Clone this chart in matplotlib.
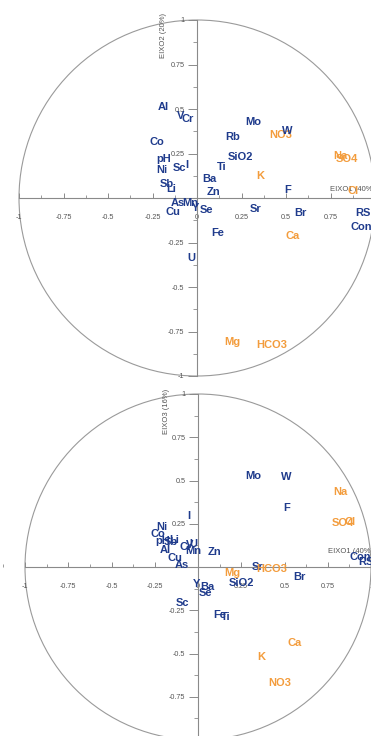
import matplotlib
matplotlib.use("Agg")
import matplotlib.pyplot as plt
from matplotlib.patches import Circle
from matplotlib.ticker import MultipleLocator, FuncFormatter

plt.rcParams['font.family'] = ['Liberation Sans', 'DejaVu Sans']

# ---------------- data ----------------
top_labels = ["Al", "V", "Cr", "Co", "pH", "Ni", "Sc", "I", "Sb", "Li", "As", "Mn", "Cu", "Y",
              "Se", "Ba", "Zn", "Ti", "SiO2", "Rb", "Mo", "NO3", "W", "Na", "SO4", "K", "F", "Cl",
              "Sr", "Br", "RS", "Cond", "Ca", "Fe", "U", "Mg", "HCO3"]
top_x = [-0.191, -0.090, -0.051, -0.225, -0.185, -0.197, -0.096, -0.056, -0.169, -0.146, -0.107,
         -0.039, -0.135, -0.006, 0.056, 0.067, 0.090, 0.140, 0.242, 0.202, 0.315, 0.472, 0.506,
         0.803, 0.843, 0.354, 0.511, 0.876, 0.331, 0.579, 0.933, 0.944, 0.539, 0.118, -0.034,
         0.197, 0.421]
top_y = [0.511, 0.461, 0.444, 0.315, 0.219, 0.157, 0.169, 0.185, 0.079, 0.051, -0.028, -0.028,
         -0.079, -0.056, -0.067, 0.107, 0.034, 0.174, 0.230, 0.343, 0.427, 0.354, 0.376, 0.236,
         0.219, 0.124, 0.045, 0.039, -0.062, -0.084, -0.084, -0.163, -0.213, -0.197, -0.337,
         -0.809, -0.826]
top_group = ["m", "m", "m", "m", "m", "m", "m", "m", "m", "m", "m", "m", "m", "m",
             "m", "m", "m", "m", "m", "m", "m", "i", "m", "i", "i", "i", "m", "i",
             "m", "m", "m", "m", "i", "m", "m", "i", "i"]

bot_labels = ["Mo", "W", "Na", "F", "SO4", "Cl", "I", "Ni", "Co", "pH", "Sb", "Li", "Al", "Cr",
              "V", "U", "Mn", "Zn", "Cu", "As", "Mg", "SiO2", "Sr", "HCO3", "Br", "Cond", "RS",
              "Y", "Ba", "Se", "Sc", "Fe", "Ti", "Ca", "K", "NO3"]
bot_x = [0.318, 0.509, 0.821, 0.514, 0.838, 0.879, -0.052, -0.208, -0.231, -0.202, -0.156, -0.139,
         -0.191, -0.069, -0.046, -0.029, -0.029, 0.098, -0.133, -0.092, 0.197, 0.254, 0.347,
         0.428, 0.584, 0.960, 0.970, -0.006, 0.052, 0.046, -0.087, 0.127, 0.162, 0.561, 0.364,
         0.474]
bot_y = [0.526, 0.520, 0.434, 0.341, 0.254, 0.260, 0.295, 0.231, 0.191, 0.150, 0.145, 0.156,
         0.098, 0.116, 0.127, 0.133, 0.092, 0.087, 0.052, 0.012, -0.035, -0.092, 0.000,
         -0.012, -0.058, 0.058, 0.029, -0.098, -0.116, -0.150, -0.208, -0.277, -0.289, -0.439,
         -0.520, -0.671]
bot_group = ["m", "m", "i", "m", "i", "i", "m", "m", "m", "m", "m", "m", "m", "m",
             "m", "m", "m", "m", "m", "m", "i", "m", "m", "i", "m", "m", "m",
             "m", "m", "m", "m", "m", "m", "i", "i", "i"]

top_xtitle = "EIXO1 (40%)"
top_ytitle = "EIXO2 (20%)"
bot_xtitle = "EIXO1 (40%)"
bot_ytitle = "EIXO3 (16%)"

# ---------------- style ----------------
COLORS = {"m": "#1f3b8c", "i": "#f39c3c"}
GRAY = "#8a8a8a"
TXT = "#555555"

fig = plt.figure(figsize=(3.71, 7.36), dpi=100)


def fmt(v, pos):
    if abs(v) < 1e-9:
        return "0"
    return ("%g" % v).replace("\u2212", "-")


def yfmt(v, pos):
    if abs(v) < 1e-9:
        return ""
    return ("%g" % v)


def make_panel(rect, xlim, ylim, labels, xs, ys, groups, xtitle, ytitle, xt_pos, yt_pos):
    ax = fig.add_axes(rect)
    ax.set_xlim(*xlim)
    ax.set_ylim(*ylim)
    ax.set_facecolor("white")
    for s in ("top", "right"):
        ax.spines[s].set_visible(False)
    ax.spines["left"].set_position(("data", 0))
    ax.spines["bottom"].set_position(("data", 0))
    for s in ("left", "bottom"):
        ax.spines[s].set_bounds(-1, 1)
        ax.spines[s].set_color(GRAY)
        ax.spines[s].set_linewidth(0.8)
    ax.xaxis.set_ticks_position("bottom")
    ax.yaxis.set_ticks_position("left")
    ax.xaxis.set_major_locator(MultipleLocator(0.25))
    ax.xaxis.set_minor_locator(MultipleLocator(0.125))
    ax.yaxis.set_major_locator(MultipleLocator(0.25))
    ax.yaxis.set_minor_locator(MultipleLocator(0.125))
    ax.xaxis.set_major_formatter(FuncFormatter(fmt))
    ax.yaxis.set_major_formatter(FuncFormatter(yfmt))
    ax.tick_params(axis="x", which="major", direction="in", length=3.6, width=0.7,
                   color=GRAY, labelsize=5.2, labelcolor=TXT, pad=11.5)
    ax.tick_params(axis="x", which="minor", direction="in", length=2.0, width=0.6, color=GRAY)
    ax.tick_params(axis="y", which="major", direction="out", length=6.5, width=0.7,
                   color=GRAY, labelsize=5.2, labelcolor=TXT, pad=2.5)
    ax.tick_params(axis="y", which="minor", direction="out", length=3.0, width=0.6, color=GRAY)

    ax.add_patch(Circle((0, 0), 1.0, fill=False, edgecolor="#9a9a9a", linewidth=0.8))

    ax.text(xt_pos[0], xt_pos[1], xtitle, fontsize=5.5, color=TXT, ha="left", va="center")
    ax.text(yt_pos[0], yt_pos[1], ytitle, fontsize=5.5, color=TXT, ha="center", va="center",
            rotation=90)

    for lab, x, y, g in zip(labels, xs, ys, groups):
        ax.text(x, y, lab, fontsize=8, fontweight="bold", color=COLORS[g],
                ha="center", va="center")
    return ax


# top panel: center (197,198) px, radius 178 px
make_panel([0, 351 / 736, 1, 385 / 736],
           (-197 / 178, (371 - 197) / 178), ((198 - 385) / 178, 198 / 178),
           top_labels, top_x, top_y, top_group, top_xtitle, top_ytitle,
           (0.745, 0.045), (-0.19, 0.915))

# bottom panel: center (198,567) px, radius 173 px
make_panel([0, 0, 1, 351 / 736],
           (-198 / 173, (371 - 198) / 173), ((567 - 736) / 173, (567 - 385) / 173),
           bot_labels, bot_x, bot_y, bot_group, bot_xtitle, bot_ytitle,
           (0.75, 0.087), (-0.18, 0.90))

fig.savefig("out.png", dpi=100)
